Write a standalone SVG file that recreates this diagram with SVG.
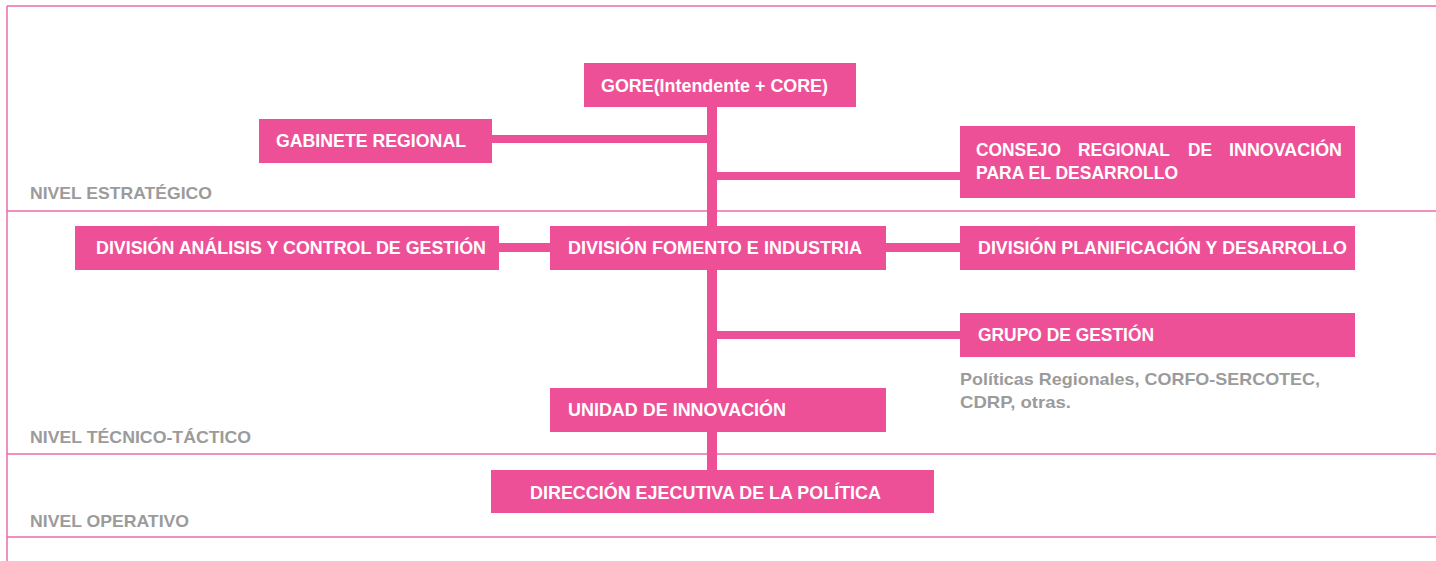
<svg xmlns="http://www.w3.org/2000/svg" width="1436" height="561" viewBox="0 0 1436 561">
<style>
.frame{stroke:#ec6aa8;stroke-width:1.5;fill:none}
.box{fill:#ee5097}
.lbl{font-family:"Liberation Sans",Arial,sans-serif;font-weight:bold;font-size:19px;fill:#ffffff}
.lvl{font-family:"Liberation Sans",Arial,sans-serif;font-weight:bold;font-size:17px;fill:#9b9b9b}
.conn{fill:#ee5097}
</style>
<g id="frame">
<line class="frame" x1="7" y1="6" x2="1436" y2="6"/>
<line class="frame" x1="7" y1="6" x2="7" y2="561"/>
<line class="frame" x1="7" y1="211" x2="1436" y2="211"/>
<line class="frame" x1="7" y1="454" x2="1436" y2="454"/>
<line class="frame" x1="7" y1="537" x2="1436" y2="537"/>
</g>
<g id="levels">
<text class="lvl" x="30" y="199" textLength="182" lengthAdjust="spacingAndGlyphs">NIVEL ESTRATÉGICO</text>
<text class="lvl" x="30" y="443" textLength="221" lengthAdjust="spacingAndGlyphs">NIVEL TÉCNICO-TÁCTICO</text>
<text class="lvl" x="30" y="527" textLength="159" lengthAdjust="spacingAndGlyphs">NIVEL OPERATIVO</text>
</g>
<g id="connectors">
<rect class="conn" x="707" y="105" width="10" height="367"/>
<rect class="conn" x="490" y="135" width="220" height="8"/>
<rect class="conn" x="714" y="172" width="248" height="8"/>
<rect class="conn" x="497" y="243" width="55" height="9"/>
<rect class="conn" x="884" y="243" width="78" height="9"/>
<rect class="conn" x="714" y="331" width="248" height="8"/>
</g>
<g id="gore">
<rect class="box" x="584" y="63" width="272" height="44"/>
<text class="lbl" x="601" y="92" textLength="227" lengthAdjust="spacingAndGlyphs">GORE(Intendente + CORE)</text>
</g>
<g id="gabinete">
<rect class="box" x="259" y="119" width="233" height="44"/>
<text class="lbl" x="276" y="147" textLength="190" lengthAdjust="spacingAndGlyphs">GABINETE REGIONAL</text>
</g>
<g id="consejo">
<rect class="box" x="960" y="126" width="395" height="72"/>
<text class="lbl" x="976" y="156" textLength="85" lengthAdjust="spacingAndGlyphs">CONSEJO</text>
<text class="lbl" x="1078" y="156" textLength="92" lengthAdjust="spacingAndGlyphs">REGIONAL</text>
<text class="lbl" x="1188" y="156" textLength="24" lengthAdjust="spacingAndGlyphs">DE</text>
<text class="lbl" x="1229" y="156" textLength="113" lengthAdjust="spacingAndGlyphs">INNOVACIÓN</text>
<text class="lbl" x="976" y="179" textLength="202" lengthAdjust="spacingAndGlyphs">PARA EL DESARROLLO</text>
</g>
<g id="analisis">
<rect class="box" x="75" y="226" width="424" height="44"/>
<text class="lbl" x="96" y="254" textLength="390" lengthAdjust="spacingAndGlyphs">DIVISIÓN ANÁLISIS Y CONTROL DE GESTIÓN</text>
</g>
<g id="fomento">
<rect class="box" x="550" y="226" width="336" height="44"/>
<text class="lbl" x="568" y="254" textLength="294" lengthAdjust="spacingAndGlyphs">DIVISIÓN FOMENTO E INDUSTRIA</text>
</g>
<g id="planificacion">
<rect class="box" x="960" y="226" width="395" height="44"/>
<text class="lbl" x="978" y="254" textLength="369" lengthAdjust="spacingAndGlyphs">DIVISIÓN PLANIFICACIÓN Y DESARROLLO</text>
</g>
<g id="grupo">
<rect class="box" x="960" y="313" width="395" height="44"/>
<text class="lbl" x="978" y="341" textLength="176" lengthAdjust="spacingAndGlyphs">GRUPO DE GESTIÓN</text>
<text class="lvl" x="960" y="385" textLength="360" lengthAdjust="spacingAndGlyphs">Políticas Regionales, CORFO-SERCOTEC,</text>
<text class="lvl" x="960" y="408" textLength="111" lengthAdjust="spacingAndGlyphs">CDRP, otras.</text>
</g>
<g id="unidad">
<rect class="box" x="550" y="388" width="336" height="44"/>
<text class="lbl" x="568" y="416" textLength="218" lengthAdjust="spacingAndGlyphs">UNIDAD DE INNOVACIÓN</text>
</g>
<g id="direccion">
<rect class="box" x="491" y="470" width="443" height="43"/>
<text class="lbl" x="530" y="499" textLength="351" lengthAdjust="spacingAndGlyphs">DIRECCIÓN EJECUTIVA DE LA POLÍTICA</text>
</g>
</svg>
